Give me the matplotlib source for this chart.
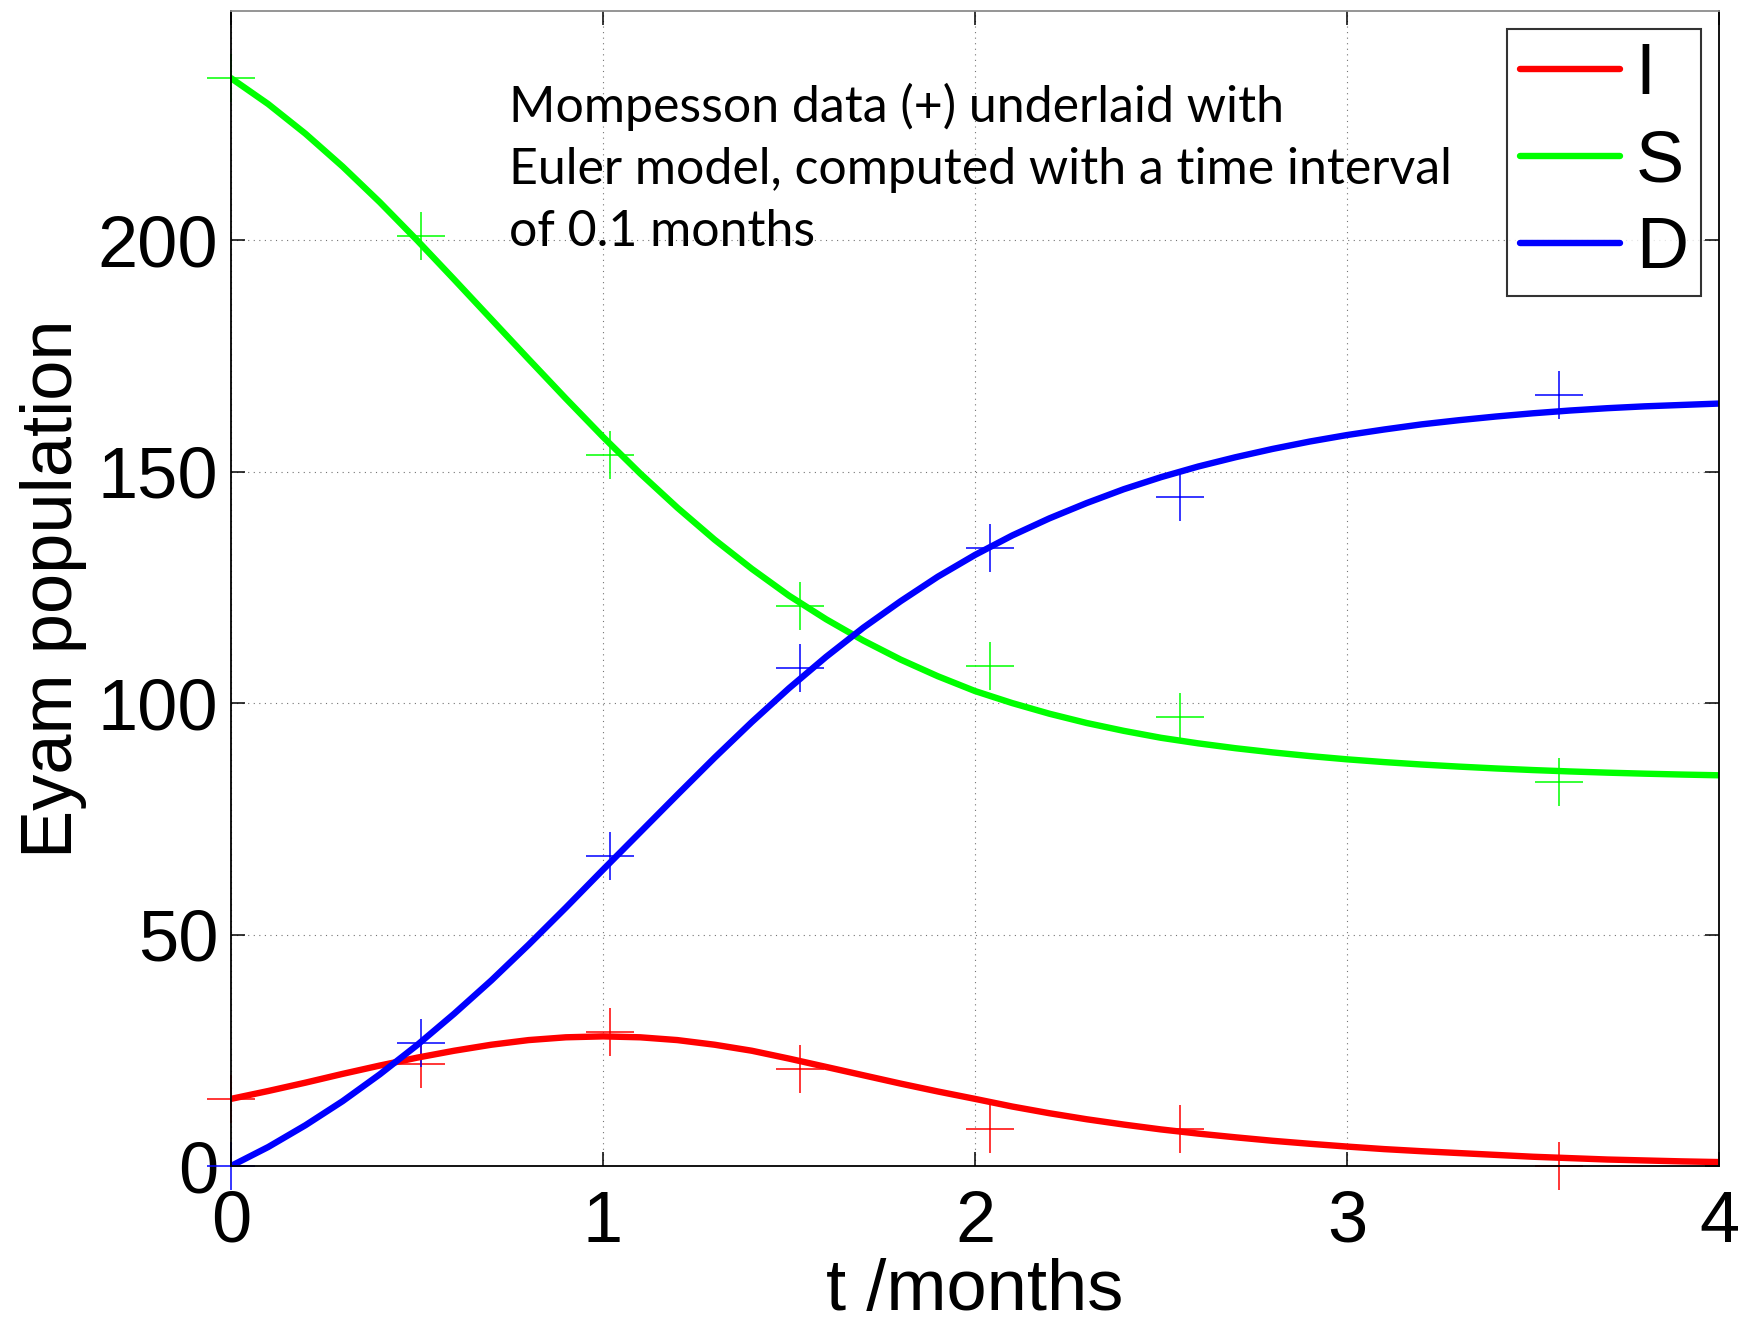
import numpy as np
import matplotlib
matplotlib.use('Agg')
import matplotlib.pyplot as plt

# Mompesson records for Eyam (months, people)
t_data = [0, 0.51, 1.02, 1.53, 2.04, 2.55, 3.57]
S_data = [235, 201, 153.5, 121, 108, 97, 83]
I_data = [14.5, 22, 29, 21, 8, 8, 0]
D_data = [0, 26.5, 67, 107.5, 133.5, 144.5, 166.5]

# Euler model output, one value every 0.1 months from 0 to 4
t_model = np.linspace(0, 4, 41)
I_model = [14.5, 16.2, 18.0, 19.9, 21.7, 23.4, 24.9, 26.2, 27.2, 27.8,
           28.0, 27.8, 27.2, 26.2, 24.9, 23.2, 21.4, 19.6, 17.8, 16.1,
           14.5, 12.85, 11.4, 10.1, 8.95, 7.9, 7.0, 6.2, 5.45, 4.8,
           4.2, 3.65, 3.2, 2.8, 2.4, 2.0, 1.7, 1.4, 1.2, 1.0,
           0.85]
S_model = [235.0, 229.4, 223.0, 215.9, 208.2, 200.0, 191.5, 182.9, 174.3, 165.8,
           157.5, 149.6, 142.2, 135.3, 129.0, 123.2, 118.1, 113.5, 109.4, 105.8,
           102.6, 100.0, 97.7, 95.7, 94.0, 92.5, 91.3, 90.25, 89.35, 88.55,
           87.85, 87.25, 86.73, 86.28, 85.88, 85.53, 85.23, 84.97, 84.75, 84.56,
           84.4]
D_model = [0.0, 4.1, 8.8, 14.0, 19.8, 26.1, 32.9, 40.1, 47.8, 55.8,
           64.0, 72.1, 80.2, 88.2, 95.9, 103.2, 110.0, 116.3, 122.0, 127.3,
           132.0, 136.2, 139.9, 143.2, 146.2, 148.8, 151.1, 153.1, 154.9, 156.5,
           157.9, 159.1, 160.2, 161.1, 161.9, 162.6, 163.2, 163.7, 164.1, 164.4,
           164.7]

x_ticks = [0, 1, 2, 3, 4]
y_ticks = [0, 50, 100, 150, 200]

plt.rcParams['font.family'] = ['Liberation Sans', 'DejaVu Sans']

fig = plt.figure(figsize=(17.41, 13.22), dpi=100)
ax = fig.add_axes([0.13268, 0.11800, 0.85468, 0.87368])

# data crosses first, model curves drawn over them
mk = dict(linestyle='none', marker='+', markersize=34, markeredgewidth=1.1, clip_on=False)
ax.plot(t_data, I_data, color=(1, 0, 0), **mk)
ax.plot(t_data, S_data, color=(0, 1, 0), **mk)
ax.plot(t_data, D_data, color=(0, 0, 1), **mk)

lI, = ax.plot(t_model, I_model, color=(1, 0, 0), lw=4.6, solid_capstyle='round')
lS, = ax.plot(t_model, S_model, color=(0, 1, 0), lw=4.6, solid_capstyle='round')
lD, = ax.plot(t_model, D_model, color=(0, 0, 1), lw=4.6, solid_capstyle='round')

ax.set_xlim(0, 4)
ax.set_ylim(0, 249.5)
ax.set_xticks(x_ticks)
ax.set_yticks(y_ticks)
ax.grid(True, linestyle=(0, (1, 4)), color='0.45', lw=0.8)

ax.tick_params(axis='both', direction='in', length=10, width=1.1, labelsize=52,
               top=True, right=True, colors='black')
ax.tick_params(axis='x', pad=17)
ax.tick_params(axis='y', pad=9)
for side in ['left', 'bottom', 'right']:
    ax.spines[side].set_linewidth(1.3)
    ax.spines[side].set_color('black')
ax.spines['top'].set_linewidth(1.3)
ax.spines['top'].set_color('0.55')

ax.set_xlabel('t /months', fontsize=52, labelpad=1)
ax.set_ylabel('Eyam population', fontsize=52, labelpad=8)

ax.text(0.1866, 0.938, 'Mompesson data (+) underlaid with\n'
        'Euler model, computed with a time interval\n'
        'of 0.1 months',
        transform=ax.transAxes, family=['Lato', 'DejaVu Sans'], fontsize=36,
        va='top', ha='left', linespacing=1.44)

leg = ax.legend([lI, lS, lD], ['I', 'S', 'D'], loc='upper right', fontsize=52,
                frameon=True, fancybox=False, handlelength=1.38, handletextpad=0.22,
                labelspacing=0.28, borderpad=0.18, borderaxespad=0.25)
leg.get_frame().set_edgecolor('black')
leg.get_frame().set_linewidth(1.5)
for ln in leg.get_lines():
    ln.set_linewidth(4.6)

fig.savefig('out.png', dpi=100)
